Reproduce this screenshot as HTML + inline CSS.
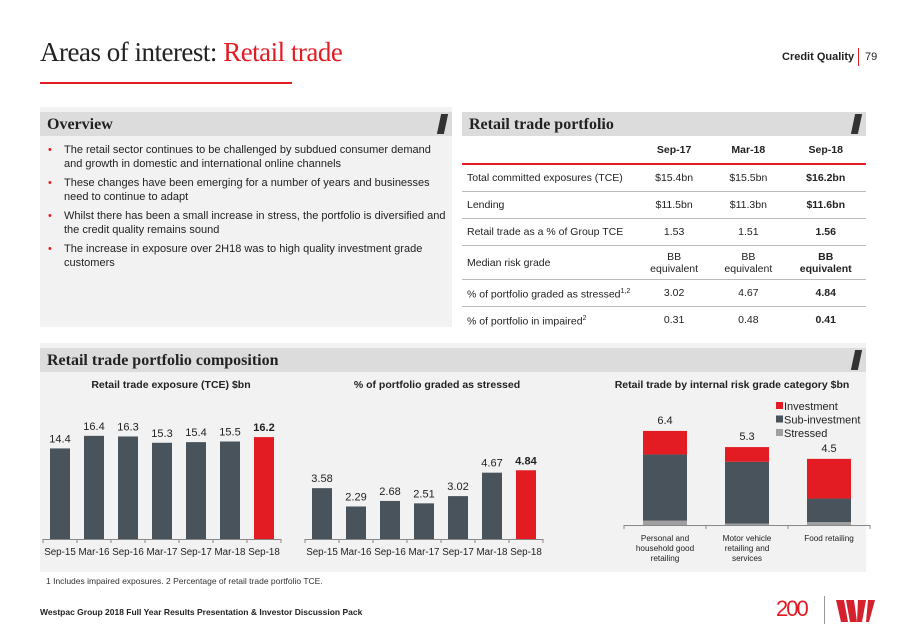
<!DOCTYPE html>
<html><head><meta charset="utf-8"><style>
body{margin:0;width:911px;height:635px;position:relative;background:#fff;font-family:"Liberation Sans",Arial,sans-serif;overflow:hidden}
.a{position:absolute}
.hdr{position:absolute;background:#dcdcdc;height:24px;font-family:"Liberation Serif",serif;font-weight:bold;font-size:16px;color:#222;line-height:26px;padding-left:7px;box-sizing:border-box}
.slash{position:absolute;right:6px;top:2px;width:7px;height:20px;background:#333;transform:skewX(-12deg)}
ul{margin:0;padding:0;list-style:none}
li{position:relative;padding-left:16px;font-size:11px;line-height:13.5px;color:#222;margin-bottom:6px}
li:before{content:"•";color:#e31b23;position:absolute;left:0}
table{border-collapse:collapse;font-size:10.5px;color:#222}
td{height:26px;padding:0;border-bottom:1px solid #bbb;text-align:center;line-height:12px}
td:first-child{text-align:left;padding-left:5px}
</style></head><body>
<div class="a" style="left:40px;top:37px;font-family:'Liberation Serif',serif;font-size:27px;color:#222;letter-spacing:-0.5px">Areas of interest: <span style="color:#e31b23">Retail trade</span></div>
<div class="a" style="left:40px;top:82px;width:252px;height:2px;background:#e31b23"></div>
<div class="a" style="left:782px;top:51px;font-size:11px;font-weight:bold;color:#222">Credit Quality</div>
<div class="a" style="left:858px;top:48px;width:1px;height:18px;background:#e31b23"></div>
<div class="a" style="left:865px;top:51px;font-size:11px;color:#222">79</div>

<div class="a" style="left:40px;top:107px;width:412px;height:220px;background:#f2f2f2"></div>
<div class="hdr" style="left:40px;top:112px;width:412px">Overview<div class="slash"></div></div>
<div class="a" style="left:48px;top:144px;width:400px">
<ul><li>The retail sector continues to be challenged by subdued consumer demand and growth in domestic and international online channels</li>
<li>These changes have been emerging for a number of years and businesses need to continue to adapt</li>
<li>Whilst there has been a small increase in stress, the portfolio is diversified and the credit quality remains sound</li>
<li>The increase in exposure over 2H18 was to high quality investment grade customers</li></ul></div>

<div class="hdr" style="left:462px;top:112px;width:404px">Retail trade portfolio<div class="slash"></div></div>
<table class="a" style="left:462px;top:137px;width:404px">
<tr style="font-weight:bold"><td style="border-bottom:2px solid #e31b23;height:24px" width="170"></td><td style="border-bottom:2px solid #e31b23">Sep-17</td><td style="border-bottom:2px solid #e31b23">Mar-18</td><td style="border-bottom:2px solid #e31b23">Sep-18</td></tr>
<tr><td>Total committed exposures (TCE)</td><td>$15.4bn</td><td>$15.5bn</td><td><b>$16.2bn</b></td></tr>
<tr><td>Lending</td><td>$11.5bn</td><td>$11.3bn</td><td><b>$11.6bn</b></td></tr>
<tr><td>Retail trade as a % of Group TCE</td><td>1.53</td><td>1.51</td><td><b>1.56</b></td></tr>
<tr><td style="height:33px">Median risk grade</td><td>BB<br>equivalent</td><td>BB<br>equivalent</td><td><b>BB<br>equivalent</b></td></tr>
<tr><td>% of portfolio graded as stressed<sup style="font-size:7px">1,2</sup></td><td>3.02</td><td>4.67</td><td><b>4.84</b></td></tr>
<tr><td style="border:none">% of portfolio in impaired<sup style="font-size:7px">2</sup></td><td style="border:none">0.31</td><td style="border:none">0.48</td><td style="border:none"><b>0.41</b></td></tr>
</table>

<div class="a" style="left:40px;top:343px;width:826px;height:229px;background:#f2f2f2"></div>
<div class="hdr" style="left:40px;top:348px;width:826px">Retail trade portfolio composition<div class="slash"></div></div>

<svg class="a" style="left:0;top:0" width="911" height="635" font-family="Liberation Sans, Arial, sans-serif">
<g id="c1"></g><g id="c2"></g><g id="c3"></g>
</svg>

<div class="a" style="left:46px;top:576px;font-size:8.5px;color:#333">1 Includes impaired exposures. 2 Percentage of retail trade portfolio TCE.</div>
<div class="a" style="left:40px;top:607px;font-size:8.5px;font-weight:bold;color:#222">Westpac Group 2018 Full Year Results Presentation &amp; Investor Discussion Pack</div>
<div class="a" style="left:776px;top:596px;font-size:22px;color:#e31b23;letter-spacing:-2px">200</div>
<div class="a" style="left:824px;top:596px;width:1px;height:28px;background:#999"></div>
<svg class="a" style="left:836px;top:600px" width="40" height="22"><path d="M0 0h8l4 22h-7zM10 0h8l3 22h-7zM22 0h8l-4 22h-5zM32 0h7l-6 22h-3z" fill="#d5202e"/></svg>

<script>
const cats=["Sep-15","Mar-16","Sep-16","Mar-17","Sep-17","Mar-18","Sep-18"];
const tceVals=[14.4,16.4,16.3,15.3,15.4,15.5,16.2];
const stressVals=[3.58,2.29,2.68,2.51,3.02,4.67,4.84];
const riskCats=[["Personal and","household good","retailing"],["Motor vehicle","retailing and","services"],["Food retailing"]];
const riskStressed=[0.3,0.1,0.2];
const riskSub=[4.5,4.2,1.6];
const riskInv=[1.6,1.0,2.7];
const riskTotals=["6.4","5.3","4.5"];
const NS="http://www.w3.org/2000/svg";
function mk(p,t,a,txt){const e=document.createElementNS(NS,t);for(const k in a)e.setAttribute(k,a[k]);if(txt!==undefined)e.textContent=txt;p.appendChild(e);return e;}
function barChart(id,vals,x0,x1,scale,title,tx,fmt){
 const g=document.getElementById(id);const base=539;const pitch=(x1-x0)/vals.length;
 const y=v=>base-v*scale;
 let t=mk(g,'text',{x:tx,y:388,'font-size':10.5,'font-weight':'bold','text-anchor':'middle',fill:'#222'},title);
 
 mk(g,'line',{x1:x0,x2:x1,y1:base+0.5,y2:base+0.5,stroke:'#888'});
 for(let i=0;i<=vals.length;i++)mk(g,'line',{x1:x0+i*pitch,x2:x0+i*pitch,y1:base,y2:base+4,stroke:'#888'});
 vals.forEach((v,i)=>{const last=i===vals.length-1;const cx=x0+pitch*(i+0.5);
  const r=mk(g,'rect',{x:cx-10,y:y(v),width:20,height:v*scale,fill:last?'#e31b23':'#48535c'});
  
  
  mk(g,'text',{x:cx,y:y(v)-6,'font-size':11,'text-anchor':'middle',fill:'#222','font-weight':last?'bold':'normal'},fmt(v));
  mk(g,'text',{x:cx,y:base+16,'font-size':9.8,'text-anchor':'middle',fill:'#222'},cats[i]);
 });
}
barChart('c1',tceVals,43,281,6.29,'Retail trade exposure (TCE) $bn',171,v=>v.toFixed(1));
barChart('c2',stressVals,305,543,14.2,'% of portfolio graded as stressed',437,v=>v.toFixed(2));
(function(){
 const g=document.getElementById('c3');const base=525;const sc=14.7;const x0=624,x1=870;const pitch=(x1-x0)/3;
 let t=mk(g,'text',{x:732,y:388,'font-size':10.5,'font-weight':'bold','text-anchor':'middle',fill:'#222'},'Retail trade by internal risk grade category $bn');
 
 mk(g,'line',{x1:x0,x2:x1,y1:base+0.5,y2:base+0.5,stroke:'#888'});
 for(let i=0;i<=3;i++)mk(g,'line',{x1:x0+i*pitch,x2:x0+i*pitch,y1:base,y2:base+4,stroke:'#888'});
 for(let i=0;i<3;i++){const cx=x0+pitch*(i+0.5);let yy=base;
  [[riskStressed[i],'#a0a0a0','stressed'],[riskSub[i],'#48535c','sub-investment'],[riskInv[i],'#e31b23','investment']].forEach(s=>{
   const h=s[0]*sc;yy-=h;const r=mk(g,'rect',{x:cx-22,y:yy,width:44,height:h,fill:s[1]});
   
   });
  mk(g,'text',{x:cx,y:yy-7,'font-size':11,'text-anchor':'middle',fill:'#222'},riskTotals[i]);
  riskCats[i].forEach((l,j)=>mk(g,'text',{x:cx,y:base+16+j*10,'font-size':8.2,'text-anchor':'middle',fill:'#222'},l));
 }
 [['Investment','#e31b23'],['Sub-investment','#48535c'],['Stressed','#a0a0a0']].forEach((l,i)=>{
  const yy=402+i*13.5;const e=mk(g,'rect',{x:776,y:yy,width:7,height:7,fill:l[1]});
  
  
  mk(g,'text',{x:784,y:yy+8,'font-size':11,fill:'#222'},l[0]);});
})();
</script>
</body></html>
